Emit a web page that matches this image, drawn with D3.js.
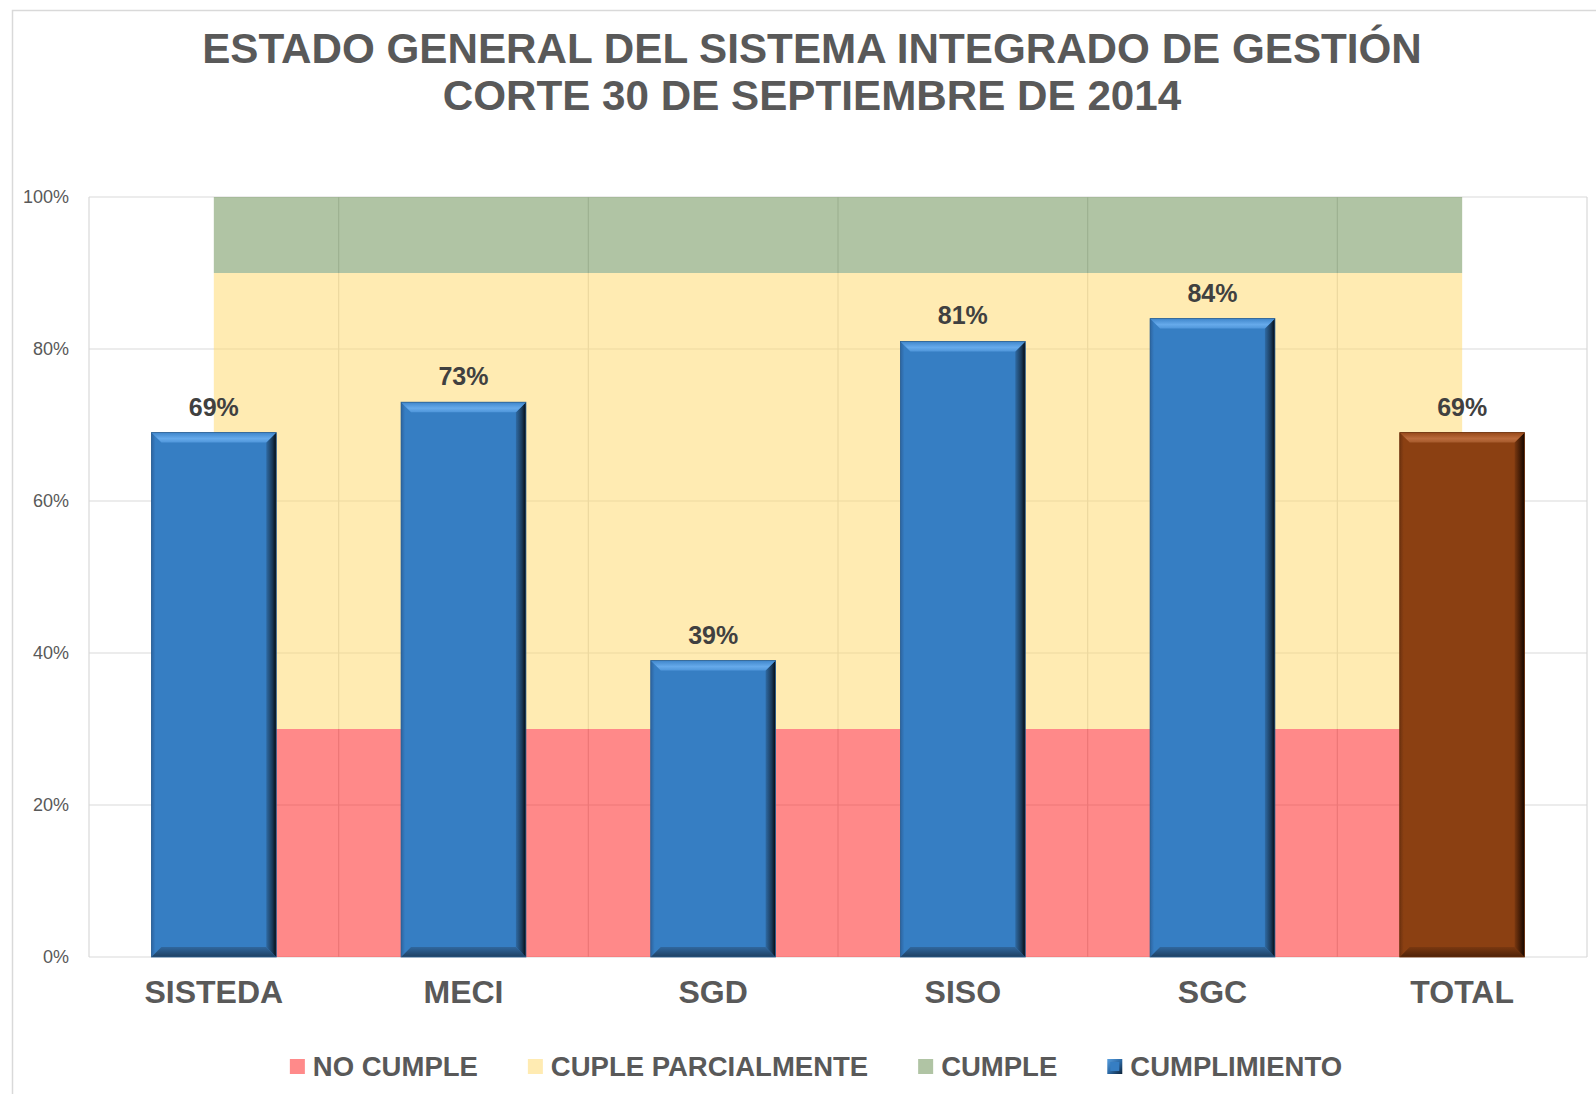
<!DOCTYPE html>
<html><head><meta charset="utf-8">
<script src="https://cdn.jsdelivr.net/npm/d3@7"></script>
<style>
html,body{margin:0;padding:0;background:#fff;}
svg{display:block;font-family:"Liberation Sans",Arial,sans-serif;}
</style></head>
<body><svg id="c" width="1596" height="1094"></svg>
<script>
const categories = ["SISTEDA","MECI","SGD","SISO","SGC","TOTAL"];
const cumplimiento = [69,73,39,81,84,69];
const noCumple = [30,30,30,30,30,30];
const cumpleParcial = [60,60,60,60,60,60];
const cumple = [10,10,10,10,10,10];
const yTicks = [0,20,40,60,80,100];
const legendLabels = ["NO CUMPLE","CUPLE PARCIALMENTE","CUMPLE","CUMPLIMIENTO"];
const titleLines = ["ESTADO GENERAL DEL SISTEMA INTEGRADO DE GESTIÓN","CORTE 30 DE SEPTIEMBRE DE 2014"];

const svg = d3.select("#c");
const W = 1596, H = 1094;
const plot = {l:89, r:1587, t:197, b:957};

// outer border
svg.append("rect").attr("x",12.5).attr("y",10.5).attr("width",W).attr("height",H)
  .attr("fill","#fff").attr("stroke","#d9d9d9").attr("stroke-width",1.5);

const defs = svg.append("defs");
function lin(id, x2, y2, stops){
  const g = defs.append("linearGradient").attr("id",id).attr("x1",0).attr("y1",0).attr("x2",x2).attr("y2",y2);
  stops.forEach(s=>g.append("stop").attr("offset",s[0]).attr("stop-color",s[1]));
}
const pal = {
  blue:{face:"#367ec3", edge:"#2b5f92",
    top:[[0,"#3f86cb"],[0.6,"#66aaeb"],[1,"#4f96da"]],
    right:[[0,"#2f6aa3"],[0.6,"#1a3a5a"],[1,"#050a10"]],
    bottom:[[0,"#30679e"],[1,"#1e4062"]],
    left:[[0,"#2d64a0"],[0.4,"#367ec3"],[1,"#367ec3"]]},
  brown:{face:"#8b4012", edge:"#6b300c",
    top:[[0,"#97491a"],[0.6,"#bb6b3c"],[1,"#a55a2c"]],
    right:[[0,"#7a3810"],[0.6,"#3f1a05"],[1,"#140600"]],
    bottom:[[0,"#7a3810"],[1,"#4e2208"]],
    left:[[0,"#6e3210"],[0.4,"#8b4012"],[1,"#8b4012"]]}
};
Object.entries(pal).forEach(([k,p])=>{
  lin(k+"Top",0,1,p.top);
  lin(k+"Right",1,0,p.right);
  lin(k+"Bottom",0,1,p.bottom);
  lin(k+"Left",1,0,p.left);
});

const x = d3.scaleBand().domain(categories).range([plot.l, plot.r]).paddingInner(0).paddingOuter(0);
const y = d3.scaleLinear().domain([0,100]).range([plot.b, plot.t]);
const cx = c => x(c) + x.bandwidth()/2;

// gridlines
const grid = svg.append("g");
grid.selectAll("line.h").data(yTicks).join("line")
  .attr("x1",plot.l).attr("x2",plot.r).attr("y1",d=>y(d)).attr("y2",d=>y(d))
  .attr("stroke","#d9d9d9").attr("stroke-width",1.2);
const bounds = categories.map(c=>x(c)).concat([plot.r]);
grid.selectAll("line.v").data(bounds).join("line")
  .attr("x1",d=>d).attr("x2",d=>d).attr("y1",plot.t).attr("y2",plot.b)
  .attr("stroke","#d9d9d9").attr("stroke-width",1.2);

// stacked areas
const rows = categories.map((c,i)=>({cat:c, no:noCumple[i], par:cumpleParcial[i], si:cumple[i]}));
const stack = d3.stack().keys(["no","par","si"])(rows);
const areaColors = {no:"#ff1414", par:"#ffd765", si:"#618949"};
const area = d3.area().x(d=>cx(d.data.cat)).y0(d=>y(d[0])).y1(d=>y(d[1]));
svg.append("g").selectAll("path").data(stack).join("path")
  .attr("d",area).attr("fill",d=>areaColors[d.key]).attr("fill-opacity",0.5);

// bars with bevel
const bw = x.bandwidth()*0.5;
const bev = 10;
const bars = svg.append("g");
categories.forEach((c,i)=>{
  const k = c==="TOTAL" ? "brown" : "blue";
  const x0 = cx(c)-bw/2, x1 = cx(c)+bw/2, y0 = y(cumplimiento[i]), y1 = y(0);
  const g = bars.append("g");
  g.append("rect").attr("x",x0).attr("y",y0).attr("width",bw).attr("height",y1-y0).attr("fill",pal[k].face);
  const poly = pts => pts.map(p=>p.join(",")).join(" ");
  g.append("polygon").attr("points",poly([[x0,y0],[x0+bev,y0+bev],[x0+bev,y1-bev],[x0,y1]])).attr("fill",`url(#${k}Left)`);
  g.append("polygon").attr("points",poly([[x0,y1],[x1,y1],[x1-bev,y1-bev],[x0+bev,y1-bev]])).attr("fill",`url(#${k}Bottom)`);
  g.append("polygon").attr("points",poly([[x1,y0],[x1,y1],[x1-bev,y1-bev],[x1-bev,y0+bev]])).attr("fill",`url(#${k}Right)`);
  g.append("polygon").attr("points",poly([[x0,y0],[x1,y0],[x1-bev,y0+bev],[x0+bev,y0+bev]])).attr("fill",`url(#${k}Top)`);
  g.append("rect").attr("x",x0).attr("y",y0).attr("width",bw).attr("height",y1-y0).attr("fill","none")
    .attr("stroke", pal[k].edge).attr("stroke-width",0.8);
});

// data labels
svg.append("g").selectAll("text").data(categories).join("text")
  .attr("x",c=>cx(c)).attr("y",(c,i)=>y(cumplimiento[i])-17)
  .attr("text-anchor","middle").attr("font-size",25).attr("font-weight","bold").attr("fill","#404040")
  .text((c,i)=>cumplimiento[i]+"%");

// y axis
const ya = svg.append("g").attr("transform",`translate(${plot.l},0)`)
  .call(d3.axisLeft(y).tickValues(yTicks).tickFormat(d=>d+"%").tickSize(0).tickPadding(20));
ya.select(".domain").remove();
ya.selectAll("text").attr("font-size",18).attr("fill","#595959").attr("font-family","Liberation Sans, Arial, sans-serif");

// x axis
const xa = svg.append("g").attr("transform",`translate(0,${plot.b})`)
  .call(d3.axisBottom(x).tickSize(0).tickPadding(23));
xa.select(".domain").remove();
xa.selectAll("text").attr("font-size",32).attr("font-weight","bold").attr("fill","#595959").attr("font-family","Liberation Sans, Arial, sans-serif");

// title
svg.append("g").selectAll("text").data(titleLines).join("text")
  .attr("x",812).attr("y",(d,i)=>63+i*47).attr("text-anchor","middle")
  .attr("font-size",42.2).attr("font-weight","bold").attr("fill","#595959").text(d=>d);

// legend
const legColors = ["#ff8a8a","#ffebb2","#b0c4a4",null];
const leg = svg.append("g");
const items = leg.selectAll("g").data(legendLabels).join("g");
items.append("text").attr("x",23).attr("y",0).attr("font-size",27.5).attr("font-weight","bold").attr("fill","#595959").text(d=>d);
lin("legBlue",1,1,[[0,"#5aa0e0"],[0.5,"#2c6aa6"],[1,"#0d2238"]]);
items.each(function(d,i){
  const g = d3.select(this);
  if(legColors[i]) g.append("rect").attr("x",0).attr("y",-17).attr("width",15).attr("height",15).attr("fill",legColors[i]);
  else {
    g.append("rect").attr("x",0).attr("y",-17).attr("width",15).attr("height",15).attr("fill","url(#legBlue)");
    g.append("rect").attr("x",3).attr("y",-14).attr("width",9).attr("height",9).attr("fill","#367ec3");
  }
});
const widths = [];
items.select("text").each(function(){ widths.push(23+this.getComputedTextLength()); });
const gap = 50;
const total = d3.sum(widths) + gap*(widths.length-1);
let cur = 816 - total/2;
items.attr("transform",(d,i)=>{ const t=`translate(${cur},1076)`; cur += widths[i]+gap; return t; });
</script></body></html>
